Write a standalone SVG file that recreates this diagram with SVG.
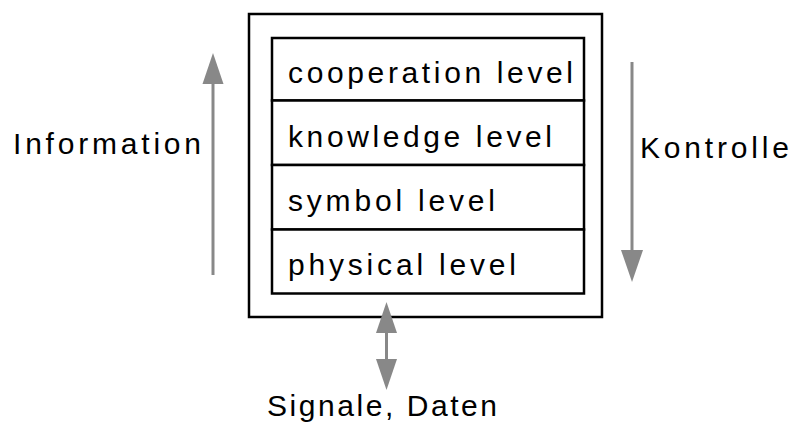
<svg xmlns="http://www.w3.org/2000/svg" width="790" height="424" viewBox="0 0 790 424">
  <style>
    .box { fill: #ffffff; stroke: #000000; stroke-width: 2.5; }
    .lbl { font-family: "Liberation Sans", Arial, Helvetica, sans-serif; font-size: 30px; fill: #000000; }
    .flow { stroke: #888888; stroke-width: 3; fill: none; }
    .tip { fill: #888888; }
  </style>

  <!-- outer frame -->
  <g id="agent">
    <rect class="box" x="249" y="14" width="353" height="303"/>
  </g>

  <!-- layered levels -->
  <g id="cooperation">
    <rect class="box" x="272" y="38" width="312" height="62.5"/>
    <text class="lbl" x="288" y="83" textLength="285" lengthAdjust="spacing">cooperation level</text>
  </g>
  <g id="knowledge">
    <rect class="box" x="272" y="100.5" width="312" height="64.5"/>
    <text class="lbl" x="288" y="147" textLength="264" lengthAdjust="spacing">knowledge level</text>
  </g>
  <g id="symbol">
    <rect class="box" x="272" y="165" width="312" height="64.5"/>
    <text class="lbl" x="288" y="211" textLength="207" lengthAdjust="spacing">symbol level</text>
  </g>
  <g id="physical">
    <rect class="box" x="272" y="229.5" width="312" height="64"/>
    <text class="lbl" x="288" y="275" textLength="228" lengthAdjust="spacing">physical level</text>
  </g>

  <!-- side and bottom labels -->
  <g id="information">
    <text class="lbl" x="13" y="154" textLength="188" lengthAdjust="spacing">Information</text>
  </g>
  <g id="kontrolle">
    <text class="lbl" x="640" y="158" textLength="149" lengthAdjust="spacing">Kontrolle</text>
  </g>
  <g id="signale">
    <text class="lbl" x="267" y="416" textLength="230" lengthAdjust="spacing">Signale, Daten</text>
  </g>

  <!-- connectors -->
  <g id="connectors">
    <!-- upward information flow -->
    <line class="flow" x1="213" y1="275" x2="213" y2="84"/>
    <polygon class="tip" points="213,53 202.5,84 223.5,84"/>
    <!-- downward control flow -->
    <line class="flow" x1="632" y1="62" x2="632" y2="250"/>
    <polygon class="tip" points="632,282 621,250 643,250"/>
    <!-- bidirectional signal/data exchange -->
    <line class="flow" x1="386.5" y1="332" x2="386.5" y2="360"/>
    <polygon class="tip" points="386.5,302 376,333 397,333"/>
    <polygon class="tip" points="386.5,390 376,359 397,359"/>
  </g>
</svg>
